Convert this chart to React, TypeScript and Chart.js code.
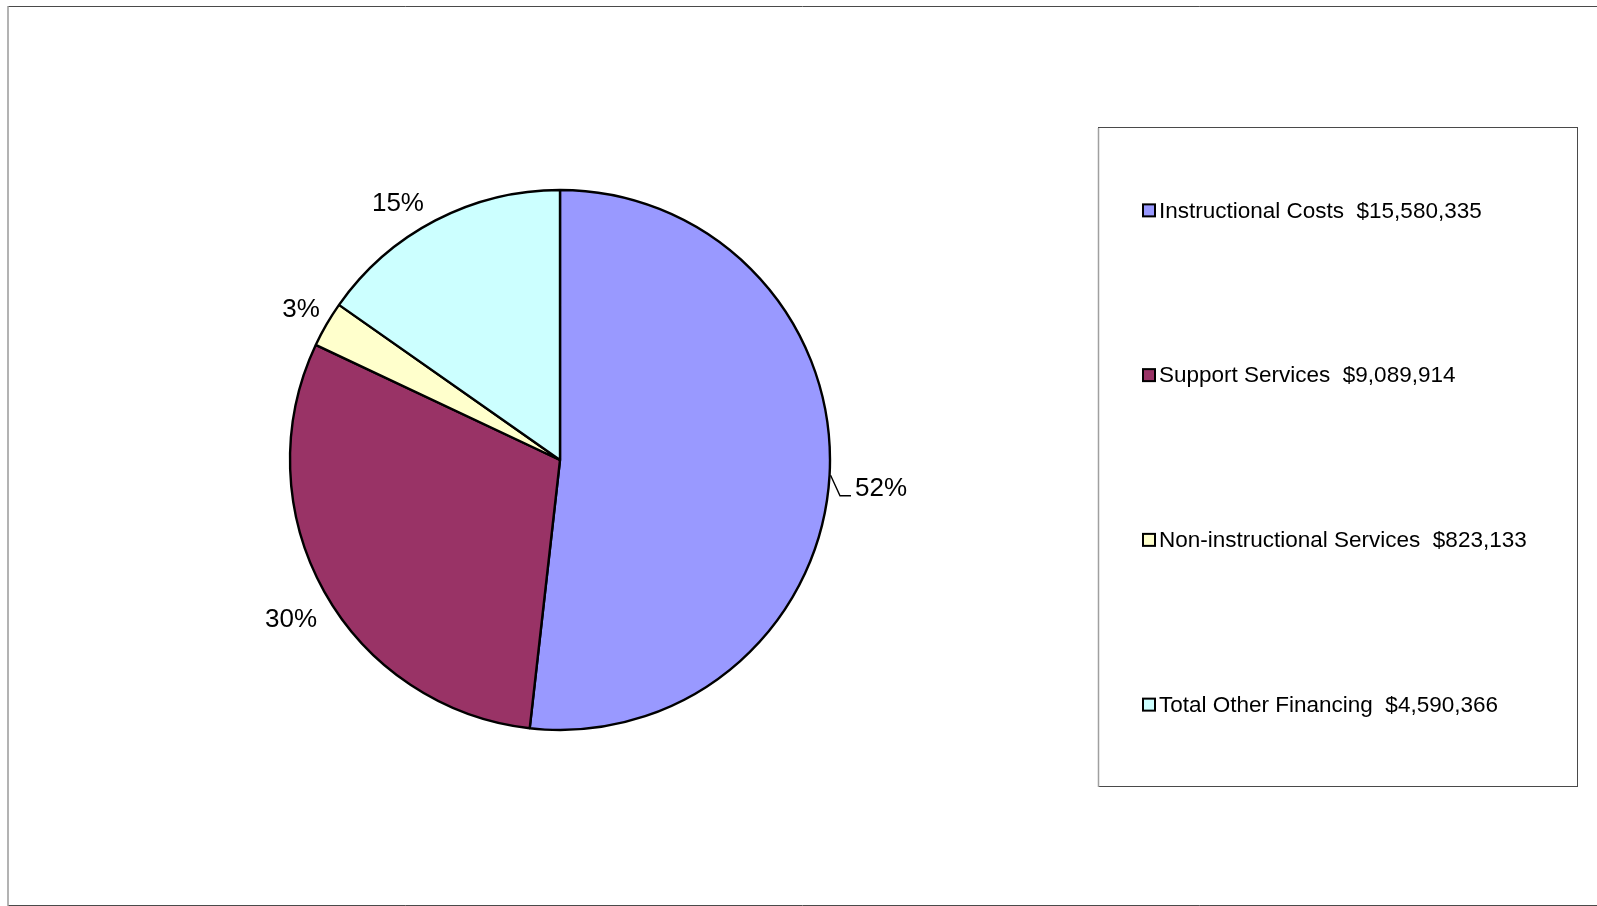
import React, { useEffect, useRef } from "react";
import { Chart, registerables } from "chart.js";

Chart.register(...registerables);

const categories = [
  "Instructional Costs",
  "Support Services",
  "Non-instructional Services",
  "Total Other Financing",
];
const amounts = [15580335, 9089914, 823133, 4590366];
const sliceColors = ["#9999FF", "#993366", "#FFFFCC", "#CCFFFF"];

const FONT = '"Liberation Sans", Arial, Helvetica, sans-serif';
const W = 1597;
const H = 906;

const legendLabels = categories.map(
  (c, i) => `${c}  $${amounts[i].toLocaleString("en-US")}`
);

const framePlugin = {
  id: "frame",
  beforeDraw(chart: any) {
    const ctx = chart.ctx;
    ctx.save();
    ctx.fillStyle = "#ffffff";
    ctx.fillRect(0, 0, chart.width, chart.height);
    ctx.lineWidth = 1;
    ctx.strokeStyle = "#4a4a4a";
    ctx.beginPath();
    ctx.moveTo(8, 6.5);
    ctx.lineTo(chart.width, 6.5);
    ctx.moveTo(8, chart.height - 0.5);
    ctx.lineTo(chart.width, chart.height - 0.5);
    ctx.stroke();
    ctx.strokeStyle = "#9a9a9a";
    ctx.lineWidth = 1.5;
    ctx.beginPath();
    ctx.moveTo(8, 6);
    ctx.lineTo(8, chart.height);
    ctx.stroke();
    ctx.restore();
  },
};

const pctPlugin = {
  id: "pct",
  afterDatasetsDraw(chart: any, _args: any, opts: any) {
    const ctx = chart.ctx;
    const meta = chart.getDatasetMeta(0);
    const data = chart.data.datasets[0].data as number[];
    const total = data.reduce((a, b) => a + b, 0);
    ctx.save();
    ctx.font = `${opts.fontSize}px ${FONT}`;
    ctx.fillStyle = "#000";
    ctx.textAlign = "center";
    ctx.textBaseline = "middle";
    meta.data.forEach((arc: any, i: number) => {
      const { x, y, startAngle, endAngle, outerRadius } = arc.getProps(
        ["x", "y", "startAngle", "endAngle", "outerRadius"],
        true
      );
      const mid = (startAngle + endAngle) / 2;
      const r = outerRadius + opts.gap;
      const nudge = opts.nudges[i] || [0, 0];
      const lx = x + Math.cos(mid) * r + nudge[0];
      const ly = y + Math.sin(mid) * r + nudge[1];
      const text = `${Math.round((data[i] / total) * 100)}%`;
      ctx.fillText(text, lx, ly);
      if (opts.leaders[i]) {
        const w = ctx.measureText(text).width;
        const left = lx - w / 2;
        ctx.strokeStyle = "#000";
        ctx.lineWidth = 1.4;
        ctx.beginPath();
        ctx.moveTo(x + Math.cos(mid) * (outerRadius + 1), y + Math.sin(mid) * (outerRadius + 1));
        ctx.lineTo(left - 15, ly + 6.5);
        ctx.lineTo(left - 4, ly + 6.5);
        ctx.stroke();
      }
    });
    ctx.restore();
  },
};

const legendPlugin = {
  id: "boxLegend",
  afterDraw(chart: any, _args: any, opts: any) {
    const ctx = chart.ctx;
    const { left, top, right, bottom } = opts.box;
    ctx.save();
    ctx.lineWidth = 1;
    ctx.strokeStyle = "#4a4a4a";
    ctx.strokeRect(left + 0.5, top + 0.5, right - left, bottom - top);
    ctx.strokeStyle = "#a0a0a0";
    ctx.lineWidth = 1.5;
    ctx.beginPath();
    ctx.moveTo(left + 0.5, top + 1);
    ctx.lineTo(left + 0.5, bottom + 1);
    ctx.stroke();

    const labels = chart.data.labels as string[];
    const colors = chart.data.datasets[0].backgroundColor as string[];
    const step = (bottom - top) / labels.length;
    ctx.font = `${opts.fontSize}px ${FONT}`;
    ctx.textBaseline = "middle";
    ctx.textAlign = "left";
    labels.forEach((lab, i) => {
      const cy = top + step * (i + 0.5) + 1;
      const bx = left + opts.markerInset;
      const s = opts.markerSize;
      ctx.fillStyle = colors[i];
      ctx.fillRect(bx, cy - s / 2, s, s);
      ctx.strokeStyle = "#000";
      ctx.lineWidth = 2;
      ctx.strokeRect(bx, cy - s / 2, s, s);
      ctx.fillStyle = "#000";
      ctx.fillText(lab, bx + s + 4, cy + 1);
    });
    ctx.restore();
  },
};

export default function App() {
  const ref = useRef<HTMLCanvasElement>(null);
  useEffect(() => {
    document.body.style.margin = "0";
    if (!ref.current) return;
    const chart = new Chart(ref.current, {
      type: "pie",
      data: {
        labels: legendLabels,
        datasets: [
          {
            data: amounts,
            backgroundColor: sliceColors,
            borderColor: "#000000",
            borderWidth: 2.4,
          },
        ],
      },
      options: {
        responsive: false,
        animation: false,
        radius: 270,
        layout: { padding: { left: 0, top: 14, right: W - 1120, bottom: 0 } },
        plugins: {
          legend: { display: false },
          tooltip: { enabled: false },
          pct: {
            fontSize: 26,
            gap: 38,
            nudges: [
              [13.5, 12],
              [0, 10],
              [7.5, 4],
              [-20, 17],
            ],
            leaders: [true, false, false, false],
          },
          boxLegend: {
            box: { left: 1098, top: 127, right: 1577, bottom: 786 },
            fontSize: 22.5,
            markerInset: 45,
            markerSize: 12,
          },
        } as any,
      },
      plugins: [framePlugin, pctPlugin, legendPlugin],
    });
    return () => chart.destroy();
  }, []);
  return (
    <div style={{ width: W, height: H }}>
      <canvas ref={ref} width={W} height={H} style={{ display: "block" }} />
    </div>
  );
}
